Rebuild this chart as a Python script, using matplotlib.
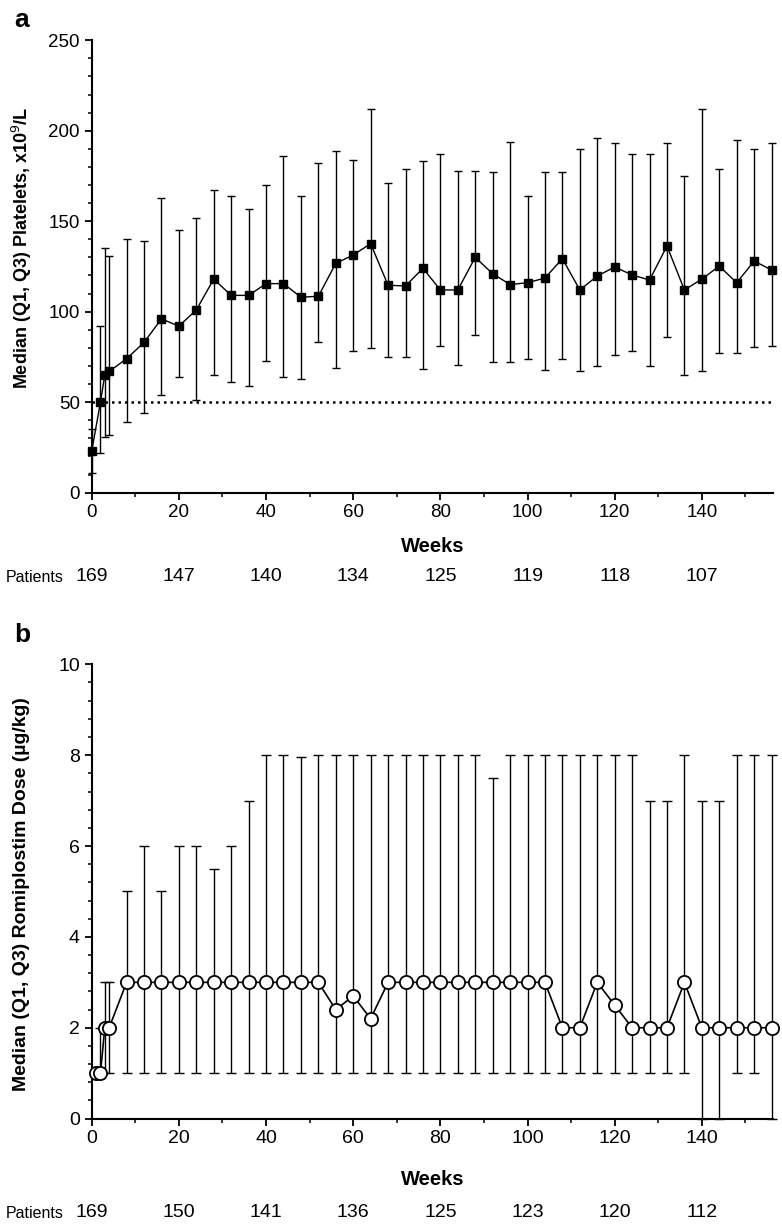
import matplotlib
matplotlib.use("Agg")
import matplotlib.pyplot as plt
import numpy as np
from matplotlib.ticker import MultipleLocator

plt.rcParams['font.family'] = ['Liberation Sans', 'DejaVu Sans']

# panel a: platelet counts
weeks_a = [0, 2, 3, 4, 8, 12, 16, 20, 24, 28, 32, 36, 40, 44, 48, 52, 56, 60, 64,
           68, 72, 76, 80, 84, 88, 92, 96, 100, 104, 108, 112, 116, 120, 124, 128,
           132, 136, 140, 144, 148, 152, 156]
plt_median = [23, 50, 65, 67, 74, 83, 96, 92, 101, 118, 109, 109, 115.5, 115.5, 108, 108.5,
              126.7, 131.3, 137.6, 114.6, 114.2, 124, 112, 112, 130, 121, 115, 116, 118.6,
              129.3, 112, 119.7, 124.7, 120.3, 117.5, 136.3, 112, 118, 125.2, 116, 128, 123]
plt_q1 = [11, 22, 31, 32, 39, 44, 54, 64, 51, 65, 61, 59, 73, 64, 63, 83,
          69, 78, 80, 75, 75, 68.5, 81, 70.6, 87, 72, 72, 74, 68,
          74, 67, 70, 76, 78, 70, 86, 65, 67, 77, 77, 80.5, 81]
plt_q3 = [35, 92, 135, 131, 140, 139, 163, 145, 152, 167, 164, 157, 170, 186, 164, 182,
          189, 184, 212, 171, 179, 183, 187, 178, 178, 177, 194, 164, 177,
          177, 190, 196, 193, 187, 187, 193, 175, 212, 179, 195, 190, 193]

# panel b: romiplostim dose
weeks_b = [1, 2, 3, 4, 8, 12, 16, 20, 24, 28, 32, 36, 40, 44, 48, 52, 56, 60, 64,
           68, 72, 76, 80, 84, 88, 92, 96, 100, 104, 108, 112, 116, 120, 124, 128,
           132, 136, 140, 144, 148, 152, 156]
dose_median = [1, 1, 2, 2, 3, 3, 3, 3, 3, 3, 3, 3, 3, 3, 3, 3, 2.4, 2.7, 2.2,
               3, 3, 3, 3, 3, 3, 3, 3, 3, 3, 2, 2, 3, 2.5, 2, 2,
               2, 3, 2, 2, 2, 2, 2]
dose_q1 = [1, 1, 1, 1, 1, 1, 1, 1, 1, 1, 1, 1, 1, 1, 1, 1, 1, 1, 1,
           1, 1, 1, 1, 1, 1, 1, 1, 1, 1, 1, 1, 1, 1, 1, 1,
           1, 1, 0, 0, 1, 1, 0]
dose_q3 = [1, 2, 3, 3, 5, 6, 5, 6, 6, 5.5, 6, 7, 8, 8, 7.95, 8, 8, 8, 8,
           8, 8, 8, 8, 8, 8, 7.5, 8, 8, 8, 8, 8, 8, 8, 8, 7,
           7, 8, 7, 7, 8, 8, 8]

patient_weeks = [0, 20, 40, 60, 80, 100, 120, 140]
patients_a = ['169', '147', '140', '134', '125', '119', '118', '107']
patients_b = ['169', '150', '141', '136', '125', '123', '120', '112']

fig = plt.figure(figsize=(7.82, 12.27), dpi=100)
ax1 = fig.add_axes([0.1173, 0.5985, 0.8716, 0.3687])
ax2 = fig.add_axes([0.1173, 0.0883, 0.8716, 0.3703])


def style_axis(ax):
    for s in ['top', 'right']:
        ax.spines[s].set_visible(False)
    for s in ['left', 'bottom']:
        ax.spines[s].set_linewidth(1.5)
    ax.xaxis.set_major_locator(MultipleLocator(20))
    ax.xaxis.set_minor_locator(MultipleLocator(10))
    ax.tick_params(which='major', direction='out', length=5, width=1.3)
    ax.tick_params(which='minor', direction='out', length=3, width=1.1)
    ax.set_xlim(0, 156.4)


# ---- panel a
med = np.array(plt_median)
yerr = [med - np.array(plt_q1), np.array(plt_q3) - med]
ax1.errorbar(weeks_a, med, yerr=yerr, fmt='s-', color='black', ms=5.5, lw=1,
             elinewidth=1, capsize=2.6, capthick=1, clip_on=False, zorder=3)
ax1.plot([0, 156], [50, 50], ls=(0, (1, 1.6)), color='black', lw=1.8, zorder=2)
style_axis(ax1)
ax1.set_ylim(0, 250)
ax1.yaxis.set_major_locator(MultipleLocator(50))
ax1.yaxis.set_minor_locator(MultipleLocator(10))
ax1.tick_params(labelsize=13.5)
ax1.set_ylabel('Median (Q1, Q3) Platelets, x10$^{9}$/L', fontsize=13, fontweight='bold')
ax1.yaxis.set_label_coords(-0.085, 0.54)
ax1.set_xlabel('Weeks', fontsize=14.5, fontweight='bold')
ax1.xaxis.set_label_coords(0.5, -0.097)
tr = ax1.get_xaxis_transform()
fig.text(0.007, 1 - 577 / 1227, 'Patients', ha='left', va='center', fontsize=11.5)
for w, p in zip(patient_weeks, patients_a):
    ax1.text(w, -0.186, p, transform=tr, ha='center', va='center', fontsize=14)
fig.text(0.018, 0.984, 'a', fontsize=19, fontweight='bold', va='center')

# ---- panel b
medb = np.array(dose_median)
yerrb = [medb - np.array(dose_q1), np.array(dose_q3) - medb]
ax2.errorbar(weeks_b, medb, yerr=yerrb, fmt='none', ecolor='black',
             elinewidth=1, capsize=3.6, capthick=1, clip_on=False, zorder=2)
ax2.plot(weeks_b, medb, '-o', color='black', mfc='white', mec='black', mew=1.3,
         ms=9.5, lw=1.2, clip_on=False, zorder=3)
style_axis(ax2)
ax2.set_ylim(0, 10)
ax2.yaxis.set_major_locator(MultipleLocator(2))
ax2.yaxis.set_minor_locator(MultipleLocator(0.4))
ax2.tick_params(labelsize=14)
ax2.set_ylabel('Median (Q1, Q3) Romiplostim Dose (µg/kg)', fontsize=14, fontweight='bold')
ax2.yaxis.set_label_coords(-0.09, 0.495)
ax2.set_xlabel('Weeks', fontsize=14.5, fontweight='bold')
ax2.xaxis.set_label_coords(0.5, -0.114)
tr2 = ax2.get_xaxis_transform()
fig.text(0.007, 1 - 1213 / 1227, 'Patients', ha='left', va='center', fontsize=11.5)
for w, p in zip(patient_weeks, patients_b):
    ax2.text(w, -0.2075, p, transform=tr2, ha='center', va='center', fontsize=14)
fig.text(0.018, 1 - 635 / 1227, 'b', fontsize=19, fontweight='bold', va='center')

fig.savefig('out.png', dpi=100)
